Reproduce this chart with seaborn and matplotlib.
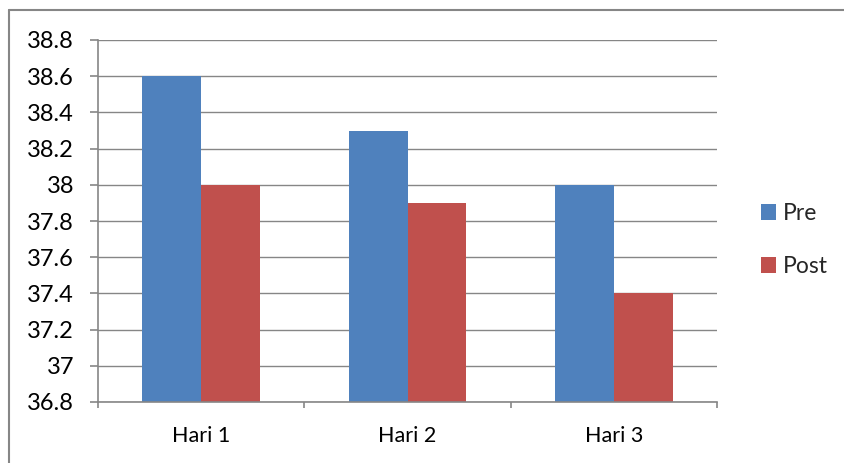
import matplotlib
matplotlib.use("Agg")
import matplotlib.pyplot as plt
from matplotlib.lines import Line2D
from matplotlib.patches import Patch
import seaborn as sns
import pandas as pd

categories = ["Hari 1", "Hari 2", "Hari 3"]
pre_values = [38.6, 38.3, 38.0]
post_values = [38.0, 37.9, 37.4]
series_names = ["Pre", "Post"]
y_ticks = [36.8, 37.0, 37.2, 37.4, 37.6, 37.8, 38.0, 38.2, 38.4, 38.6, 38.8]
y_tick_labels = ["36.8", "37", "37.2", "37.4", "37.6", "37.8", "38", "38.2", "38.4", "38.6", "38.8"]

colors = {"Pre": "#4F81BD", "Post": "#C0504D"}
grid_color = "#868686"

df = pd.DataFrame({
    "Hari": categories * 2,
    "Seri": [series_names[0]] * 3 + [series_names[1]] * 3,
    "Suhu": pre_values + post_values,
})

sns.set_style("white")
plt.rcParams["font.family"] = ["Lato", "DejaVu Sans"]

W, H = 844, 463
fig = plt.figure(figsize=(W / 100, H / 100), dpi=100)
ax = fig.add_axes([98 / W, 1 - 402 / H, (717 - 98) / W, (402 - 40) / H])

sns.barplot(data=df, x="Hari", y="Suhu", hue="Seri", palette=colors,
            width=0.57, gap=0, ax=ax, legend=False, saturation=1,
            errorbar=None, linewidth=0)

ax.set_ylim(36.8, 38.8)
ax.set_xlim(-0.5, 2.5)
ax.set_yticks(y_ticks)
ax.set_yticklabels(y_tick_labels)
ax.set_xlabel("")
ax.set_ylabel("")

ax.set_axisbelow(True)
ax.yaxis.grid(True, color=grid_color, linewidth=1)
ax.xaxis.grid(False)

for side in ["top", "right"]:
    ax.spines[side].set_visible(False)
for side in ["left", "bottom"]:
    ax.spines[side].set_visible(True)
    ax.spines[side].set_color(grid_color)
    ax.spines[side].set_linewidth(1.2)

# category boundaries carry the x tick marks; labels sit at category centres
ax.set_xticks([-0.5, 0.5, 1.5, 2.5], minor=False)
ax.set_xticklabels([])
ax.set_xticks([0, 1, 2], minor=True)
ax.set_xticklabels(categories, minor=True)
ax.tick_params(axis="x", which="major", direction="out", length=4.5, width=1.2,
               color=grid_color, bottom=True)
ax.tick_params(axis="x", which="minor", length=0, labelsize=15.5, pad=17,
               labelcolor="black")
ax.tick_params(axis="y", direction="out", length=5.8, width=1.2, color=grid_color,
               left=True, labelsize=17, pad=11.5, labelcolor="black")

handles = [Patch(facecolor=colors[s], edgecolor="none") for s in series_names]
fig.legend(handles, series_names, loc="center left",
           bbox_to_anchor=(740 / W, 1 - 240 / H), frameon=False,
           fontsize=16.5, handlelength=0.65, handleheight=0.65,
           handletextpad=0.3, labelspacing=1.4)

# outer chart frame (top and left edges)
fig.add_artist(Line2D([9 / W, 9 / W], [0, 1 - 10 / H], transform=fig.transFigure,
                      color=grid_color, linewidth=1.5))
fig.add_artist(Line2D([9 / W, 1], [1 - 10 / H, 1 - 10 / H], transform=fig.transFigure,
                      color=grid_color, linewidth=1.5))

fig.savefig("out.png", dpi=100, facecolor="white")
